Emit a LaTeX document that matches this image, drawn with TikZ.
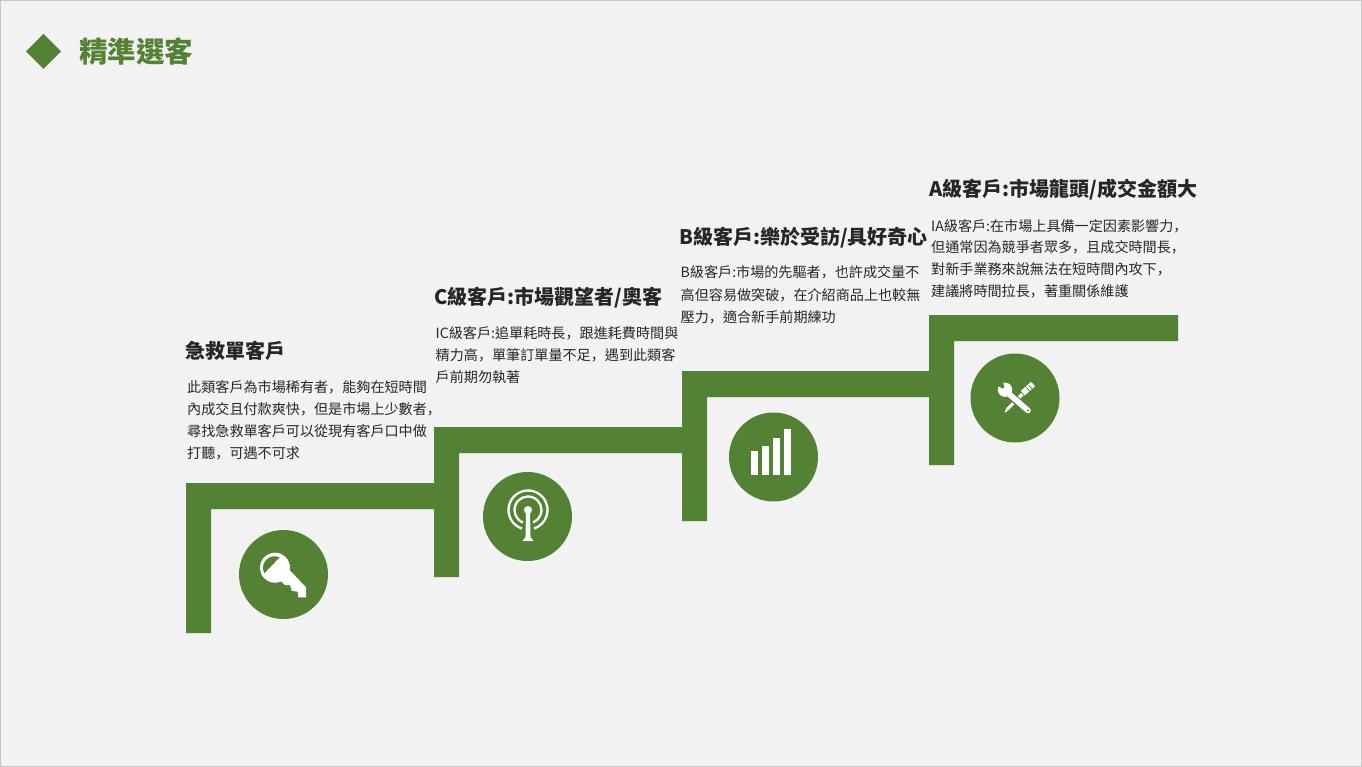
\documentclass[tikz,border=0pt]{standalone}
\usepackage{fontspec}
\setmainfont{Noto Sans CJK TC}
\newfontfamily\jpf{Noto Sans CJK JP}
\newcommand{\cm}{{\jpf ，}}
\definecolor{gr}{HTML}{548235}
\definecolor{bgc}{HTML}{F2F2F2}
\definecolor{ink}{HTML}{262626}
\tikzset{
  stair/.style={fill=gr,draw=none},
  disc/.style={circle,fill=gr,draw=none,minimum size=89pt,inner sep=0pt},
  ttl/.style={anchor=base west,inner sep=0pt,text=ink,font=\fontsize{20}{24}\selectfont\bfseries},
  body/.style={anchor=base west,inner sep=0pt,text=ink,align=left,font=\fontsize{14.1}{22}\selectfont},
  ico/.style={fill=white,draw=none},
  bar/.style={fill=white,draw=none},
  ring/.style={draw=white,line width=2.3pt}
}
\begin{document}
\begin{tikzpicture}[x=1pt,y=-1pt]
\useasboundingbox (0,0) rectangle (1362,767);
\fill[bgc] (0,0) rectangle (1362,767);
\draw[color=black!22,line width=1pt] (0.5,0.5) rectangle (1361.5,766.5);
% header
\fill[gr] (26,51.5) -- (43.5,34) -- (61,51.5) -- (43.5,69) -- cycle;
\node[anchor=base west,inner sep=0pt,text=gr,font=\fontsize{28.5}{32}\selectfont\bfseries] (head) at (79,63) {精準選客};
% stairs
\fill[stair] (186,633) -- (186,483) -- (434,483) -- (434,509) -- (211,509) -- (211,633) -- cycle;
\fill[stair] (434,577) -- (434,427) -- (682,427) -- (682,453) -- (459,453) -- (459,577) -- cycle;
\fill[stair] (682,521) -- (682,371) -- (929,371) -- (929,397) -- (707,397) -- (707,521) -- cycle;
\fill[stair] (929,465) -- (929,315) -- (1178,315) -- (1178,341) -- (954,341) -- (954,465) -- cycle;
% discs
\node[disc] (d1) at (283.5,574.5) {};
\node[disc] (d2) at (527.5,516.5) {};
\node[disc] (d3) at (773.5,457) {};
\node[disc] (d4) at (1015,398) {};
% key
\fill[ico] (275,567.7) circle (15);
\fill[ico] (287.3,567.7) -- (306,587.3) -- (306,597.3) -- (298.3,597.3) -- (297.7,591.7) -- (291.7,590.7) -- (290,585) -- (285,585) -- (281,581) -- cycle;
\fill[gr] (264.3,573.3) arc[start angle=152,end angle=296,radius=11.6] -- cycle;
% antenna
\draw[ring] (528,510) ++(108:19.5) arc[start angle=108,end angle=432,radius=19.5];
\draw[ring] (528,510) ++(112:13.5) arc[start angle=112,end angle=428,radius=13.5];
\fill[ico] (528,510) circle (4);
\fill[ico] (526,511) -- (530,511) -- (530.5,537) -- (533.5,541) -- (522.5,541) -- (525.5,537) -- cycle;
% bars
\fill[bar] (751,451) rectangle (758,475);
\fill[bar] (762,446) rectangle (769,475);
\fill[bar] (773,438) rectangle (780,475);
\fill[bar] (784,429) rectangle (791,475);
% tools: screwdriver
\draw[white,line width=6pt] (1022.8,393.2) -- (1033,384);
\draw[gr,line width=0.8pt] (1026.5,387.5) -- (1029.5,391);
\draw[gr,line width=0.8pt] (1029,385.5) -- (1032,389);
\fill[ico] (1021,393) -- (1023.5,395.5) -- (1008,410.5) -- (1004.5,413) -- (1006,408.5) -- cycle;
% tools: wrench
\draw[gr,line width=8pt] (1009,394) -- (1028,411);
\fill[ico] (1005,389.7) circle (7.2);
\fill[gr] (1004.8,389.5) -- (1002,378) -- (994,384) -- cycle;
\draw[white,line width=5.6pt,line cap=round] (1005,390.5) -- (1028,410.5);
\fill[gr] (1028,410.5) circle (1.2);
% text blocks
\node[ttl] (t1) at (185,358) {急救單客戶};
\node[body] (b1) at (187,458) {此類客戶為市場稀有者\cm 能夠在短時間\\內成交且付款爽快\cm 但是市場上少數者\cm\\尋找急救單客戶可以從現有客戶口中做\\打聽\cm 可遇不可求};
\node[ttl] (t2) at (434,305) {C級客戶:市場觀望者/奧客};
\node[body] (b2) at (435.5,382) {IC級客戶:追單耗時長\cm 跟進耗費時間與\\精力高\cm 單筆訂單量不足\cm 遇到此類客\\戶前期勿執著};
\node[ttl] (t3) at (679,245) {B級客戶:樂於受訪/具好奇心};
\node[body] (b3) at (680.5,322) {B級客戶:市場的先驅者\cm 也許成交量不\\高但容易做突破\cm 在介紹商品上也較無\\壓力\cm 適合新手前期練功};
\node[ttl] (t4) at (929,197) {A級客戶:市場龍頭/成交金額大};
\node[body] (b4) at (931,297) {IA級客戶:在市場上具備一定因素影響力\cm\\但通常因為競爭者眾多\cm 且成交時間長\cm\\對新手業務來說無法在短時間內攻下\cm\\建議將時間拉長\cm 著重關係維護};
\end{tikzpicture}
\end{document}
